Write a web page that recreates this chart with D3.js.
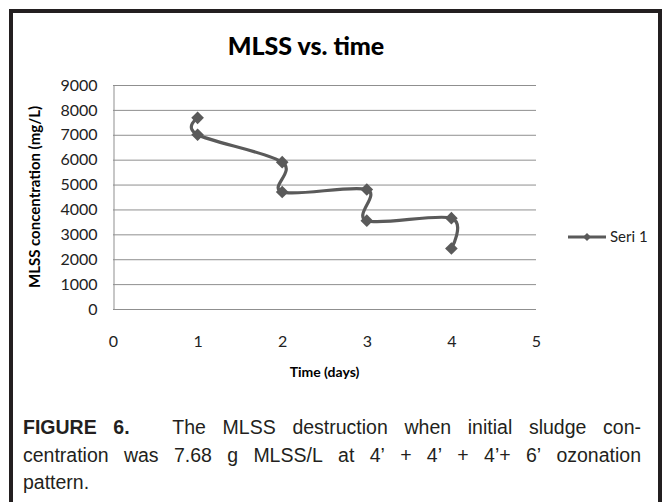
<!DOCTYPE html>
<html>
<head>
<meta charset="utf-8">
<script src="https://cdn.jsdelivr.net/npm/d3@7"></script>
<style>
  body { margin: 0; background: #fff; }
  svg { display: block; }
</style>
</head>
<body>
<div id="chart-area"></div>
<script>
// chart data
const days = [1, 1, 2, 2, 3, 3, 4, 4];
const mlss = [7680, 7000, 5900, 4700, 4800, 3550, 3650, 2430];
const xTicks = [0, 1, 2, 3, 4, 5];
const yTicks = [0, 1000, 2000, 3000, 4000, 5000, 6000, 7000, 8000, 9000];
const seriesName = "Seri 1";

const W = 663, H = 502;
const PLOT = {left: 113, right: 536, top: 85, bottom: 309};
const GREY = "#5a5a5a";
const CHART_FONT = "Lato, 'Open Sans', sans-serif";

const svg = d3.select("#chart-area").append("svg")
    .attr("width", W)
    .attr("height", H);

svg.append("rect").attr("width", W).attr("height", H).attr("fill", "#fff");

// frame
svg.append("rect")
    .attr("x", 11).attr("y", 11)
    .attr("width", 649).attr("height", 520)
    .attr("fill", "none")
    .attr("stroke", "#231f20")
    .attr("stroke-width", 4);

// scales
const x = d3.scaleLinear().domain([0, 5]).range([PLOT.left, PLOT.right]);
const y = d3.scaleLinear().domain([0, 9000]).range([PLOT.bottom, PLOT.top]);

// title
svg.append("text")
    .attr("x", 306).attr("y", 55)
    .attr("text-anchor", "middle")
    .style("font-family", CHART_FONT)
    .style("font-weight", "900")
    .style("font-size", "25px")
    .text("MLSS vs. time");

// gridlines
svg.append("g")
    .selectAll("line")
    .data(yTicks)
    .join("line")
    .attr("x1", PLOT.left).attr("x2", PLOT.right)
    .attr("y1", d => y(d) + 0.5).attr("y2", d => y(d) + 0.5)
    .attr("stroke", "#8f8f8f")
    .attr("stroke-width", 1);

// y axis
const yAxis = svg.append("g")
    .attr("transform", `translate(${PLOT.left + 0.5},0)`)
    .call(d3.axisLeft(y).tickValues(yTicks).tickFormat(d3.format("d")).tickSize(0).tickPadding(16));
yAxis.select(".domain").attr("stroke", "#8f8f8f");
yAxis.selectAll("text")
    .style("font-family", CHART_FONT)
    .style("font-size", "16px")
    .attr("fill", "#222");

// x axis (labels only, below the zero gridline)
const xAxis = svg.append("g")
    .attr("transform", `translate(0,${PLOT.bottom + 0.5})`)
    .call(d3.axisBottom(x).tickValues(xTicks).tickFormat(d3.format("d")).tickSize(0).tickPadding(26));
xAxis.select(".domain").remove();
xAxis.selectAll("text")
    .style("font-family", CHART_FONT)
    .style("font-size", "16px")
    .attr("fill", "#222");

// axis titles
svg.append("text")
    .attr("x", (PLOT.left + PLOT.right) / 2).attr("y", 377)
    .attr("text-anchor", "middle")
    .style("font-family", CHART_FONT)
    .style("font-weight", "bold")
    .style("font-size", "14px")
    .text("Time (days)");

svg.append("text")
    .attr("transform", `translate(40,${(PLOT.top + PLOT.bottom) / 2}) rotate(-90)`)
    .attr("text-anchor", "middle")
    .style("font-family", CHART_FONT)
    .style("font-weight", "bold")
    .style("font-size", "15px")
    .text("MLSS concentration (mg/L)");

// series line (smoothed like the spreadsheet)
const points = days.map((d, i) => [d, mlss[i]]);
const line = d3.line()
    .x(d => x(d[0]))
    .y(d => y(d[1]))
    .curve(d3.curveCardinal.tension(0));

svg.append("path")
    .datum(points)
    .attr("d", line)
    .attr("fill", "none")
    .attr("stroke", GREY)
    .attr("stroke-width", 3.2);

// diamond markers (rotated squares)
const marker = d3.symbol().type(d3.symbolSquare).size(80);
svg.append("g")
    .selectAll("path")
    .data(points)
    .join("path")
    .attr("d", marker)
    .attr("transform", d => `translate(${x(d[0])},${y(d[1])}) rotate(45)`)
    .attr("fill", GREY);

// legend
const legend = svg.append("g").attr("transform", "translate(568,237)");
legend.append("line")
    .attr("x1", 0).attr("x2", 38)
    .attr("stroke", GREY).attr("stroke-width", 3.2);
legend.append("path")
    .attr("d", d3.symbol().type(d3.symbolSquare).size(32))
    .attr("transform", "translate(19,0) rotate(45)")
    .attr("fill", GREY);
legend.append("text")
    .attr("x", 42).attr("dy", "0.35em")
    .style("font-family", CHART_FONT)
    .style("font-size", "15px")
    .attr("fill", "#222")
    .text(seriesName);

// caption, justified word by word
const CAP_FONT = "'Liberation Sans', Arial, sans-serif";
const capLines = [
  {y: 434, justify: true, words: [
    {t: "FIGURE", b: true}, {t: "6.", b: true, gap: 26},
    {t: "The"}, {t: "MLSS"}, {t: "destruction"}, {t: "when"}, {t: "initial"}, {t: "sludge"}, {t: "con-"}]},
  {y: 462, justify: true, words: [
    {t: "centration"}, {t: "was"}, {t: "7.68"}, {t: "g"}, {t: "MLSS/L"}, {t: "at"},
    {t: "4’"}, {t: "+"}, {t: "4’"}, {t: "+"}, {t: "4’+"}, {t: "6’"}, {t: "ozonation"}]},
  {y: 489, justify: false, words: [{t: "pattern."}]}
];
const capLeft = 23, capRight = 641;

capLines.forEach(ln => {
  const g = svg.append("g");
  const nodes = ln.words.map(w => g.append("text")
      .attr("y", ln.y)
      .style("font-family", CAP_FONT)
      .style("font-size", "19.5px")
      .style("font-weight", w.b ? "bold" : "normal")
      .attr("fill", "#231f20")
      .text(w.t));
  const widths = nodes.map(n => n.node().getComputedTextLength());
  const extra = d3.sum(ln.words, w => w.gap || 0);
  let gap = 5;
  if (ln.justify && nodes.length > 1) {
    gap = (capRight - capLeft - d3.sum(widths) - extra) / (nodes.length - 1);
  }
  let cx = capLeft;
  nodes.forEach((n, i) => {
    n.attr("x", cx);
    cx += widths[i] + gap + (ln.words[i].gap || 0);
  });
});
</script>
</body>
</html>
